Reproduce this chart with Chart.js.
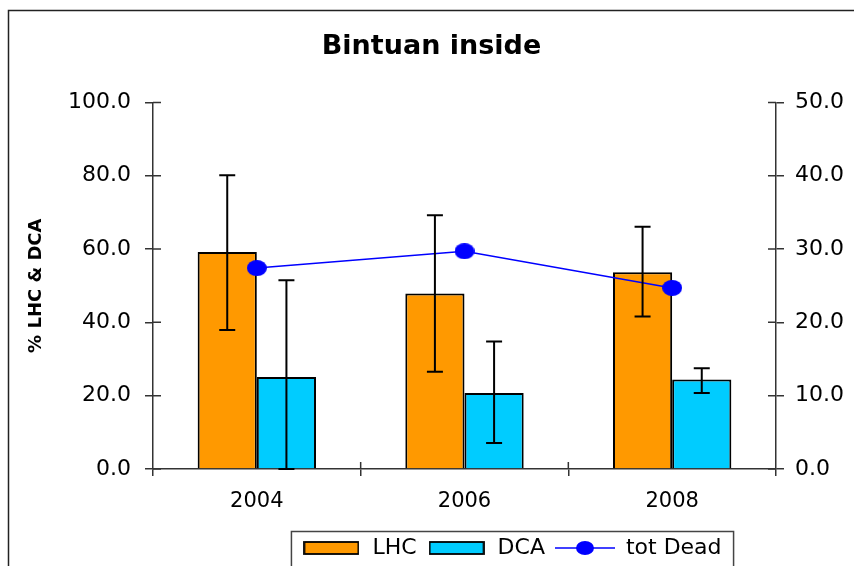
<!DOCTYPE html>
<html>
<head>
<meta charset="utf-8">
<script src="https://cdn.jsdelivr.net/npm/chart.js@4.4.1/dist/chart.umd.min.js"></script>
<style>
  html, body { margin: 0; padding: 0; background: #fff; overflow: hidden; }
  #wrap { width: 854px; height: 566px; overflow: hidden; }
</style>
</head>
<body>
<div id="wrap"><canvas id="bar-chart" width="854" height="569"></canvas></div>
<script>
const years = ['2004', '2006', '2008'];
const lhc = [59.2, 47.9, 53.7];
const lhcHigh = [80.1, 69.2, 66.1];
const lhcLow = [37.9, 26.5, 41.6];
const dca = [25.1, 20.7, 24.4];
const dcaHigh = [51.5, 34.8, 27.5];
const dcaLow = [0.0, 7.1, 20.7];
const totDead = [27.4, 29.7, 24.7];
const leftTicks = [0, 20, 40, 60, 80, 100];
const rightTicks = [0, 10, 20, 30, 40, 50];

const FONT = "'DejaVu Sans', sans-serif";
const AXIS = '#333';

function boxIcon(color) {
  const c = document.createElement('canvas');
  c.width = 56; c.height = 14;
  const g = c.getContext('2d');
  g.fillStyle = color;
  g.fillRect(1, 1, 54, 12);
  g.strokeStyle = '#000';
  g.lineWidth = 1.8;
  g.strokeRect(1, 1, 54, 12);
  return c;
}

function dotIcon(w, h) {
  const c = document.createElement('canvas');
  c.width = w; c.height = h;
  const g = c.getContext('2d');
  g.fillStyle = '#0000FF';
  g.beginPath();
  g.ellipse(w / 2, h / 2, w / 2, h / 2, 0, 0, Math.PI * 2);
  g.fill();
  return c;
}

function lineIcon() {
  const c = document.createElement('canvas');
  c.width = 60; c.height = 16;
  const g = c.getContext('2d');
  g.strokeStyle = '#0000FF';
  g.lineWidth = 1.5;
  g.beginPath();
  g.moveTo(0, 8); g.lineTo(60, 8);
  g.stroke();
  g.drawImage(dotIcon(18, 14), 21, 1);
  return c;
}

const legendIcons = [boxIcon('#FF9900'), boxIcon('#00CCFF'), lineIcon()];
const errors = [[lhcLow, lhcHigh], [dcaLow, dcaHigh]];

// frame round the chart + white background
const framePlugin = {
  id: 'frame',
  beforeDraw(chart) {
    const ctx = chart.ctx;
    ctx.save();
    ctx.fillStyle = '#fff';
    ctx.fillRect(0, 0, chart.width, chart.height);
    ctx.strokeStyle = '#222';
    ctx.lineWidth = 1.5;
    ctx.beginPath();
    ctx.moveTo(8.5, chart.height + 5);
    ctx.lineTo(8.5, 10.5);
    ctx.lineTo(chart.width + 5, 10.5);
    ctx.stroke();
    ctx.restore();
  }
};

// ticks that cross the axis lines
const innerTicks = {
  id: 'innerTicks',
  afterDraw(chart) {
    const ctx = chart.ctx;
    const {x, y, y2} = chart.scales;
    ctx.save();
    ctx.strokeStyle = AXIS;
    ctx.lineWidth = 1.5;
    ctx.beginPath();
    y.ticks.forEach(t => {
      const p = y.getPixelForValue(t.value);
      ctx.moveTo(y.right, p); ctx.lineTo(y.right + 8, p);
    });
    y2.ticks.forEach(t => {
      const p = y2.getPixelForValue(t.value);
      ctx.moveTo(y2.left, p); ctx.lineTo(y2.left - 8, p);
    });
    const step = x.width / years.length;
    for (let i = 1; i < years.length; i++) {
      const p = x.left + i * step;
      ctx.moveTo(p, x.top); ctx.lineTo(p, x.top - 7);
    }
    ctx.stroke();
    ctx.restore();
  }
};

const errorBars = {
  id: 'errorBars',
  afterDatasetsDraw(chart) {
    const ctx = chart.ctx;
    const y = chart.scales.y;
    ctx.save();
    ctx.strokeStyle = '#000';
    ctx.lineWidth = 2;
    errors.forEach((pair, di) => {
      const meta = chart.getDatasetMeta(di);
      meta.data.forEach((bar, i) => {
        const lo = y.getPixelForValue(pair[0][i]);
        const hi = y.getPixelForValue(pair[1][i]);
        ctx.beginPath();
        ctx.moveTo(bar.x, lo); ctx.lineTo(bar.x, hi);
        ctx.moveTo(bar.x - 8, hi); ctx.lineTo(bar.x + 8, hi);
        ctx.moveTo(bar.x - 8, lo); ctx.lineTo(bar.x + 8, lo);
        ctx.stroke();
      });
    });
    ctx.restore();
  }
};

// move the legend to the right like in the original and box it
const legendBox = {
  id: 'legendBox',
  afterLayout(chart) {
    chart.legend.left += 80;
    chart.legend.right += 80;
  },
  afterDraw(chart) {
    const lg = chart.legend;
    const pad = lg.options.labels.padding;
    const w = lg.lineWidths[0];
    const startX = (lg.left + pad + lg.right - w) / 2;
    const ctx = chart.ctx;
    ctx.save();
    ctx.strokeStyle = '#444';
    ctx.lineWidth = 1.5;
    ctx.strokeRect(startX - 10, lg.top + 4.5, w + 12, 60);
    ctx.restore();
  }
};

Chart.defaults.color = '#000';
Chart.defaults.font.family = FONT;

let barchart = new Chart(document.getElementById('bar-chart'), {
  type: 'bar',
  data: {
    labels: years,
    datasets: [
      {
        label: 'LHC',
        backgroundColor: '#FF9900',
        borderColor: '#000',
        borderWidth: 2,
        data: lhc,
        order: 1
      },
      {
        label: 'DCA',
        backgroundColor: '#00CCFF',
        borderColor: '#000',
        borderWidth: 2,
        data: dca,
        order: 1
      },
      {
        type: 'line',
        label: 'tot Dead',
        yAxisID: 'y2',
        borderColor: '#0000FF',
        borderWidth: 1.5,
        backgroundColor: '#0000FF',
        pointStyle: dotIcon(20, 16),
        pointRadius: 9,
        data: totDead,
        order: 0
      }
    ]
  },
  options: {
    responsive: false,
    animation: false,
    categoryPercentage: 0.57,
    barPercentage: 1.0,
    layout: { padding: { left: 9, top: 10, right: 0, bottom: 0 } },
    plugins: {
      tooltip: { enabled: false },
      title: {
        display: true,
        text: 'Bintuan inside',
        color: '#000',
        font: { family: FONT, size: 27, weight: 'bold', lineHeight: 1.2 },
        padding: { top: 21, bottom: 39 }
      },
      legend: {
        position: 'bottom',
        labels: {
          usePointStyle: true,
          pointStyleWidth: 60,
          padding: 10,
          color: '#000',
          font: { family: FONT, size: 22 },
          generateLabels(chart) {
            return chart.data.datasets.map((ds, i) => ({
              text: ds.label,
              pointStyle: legendIcons[i],
              datasetIndex: i,
              hidden: false,
              lineWidth: 0
            }));
          }
        }
      }
    },
    scales: {
      x: {
        grid: { display: true, offset: true, drawOnChartArea: false, tickLength: 7, color: AXIS, lineWidth: 1.5 },
        border: { display: true, color: AXIS, width: 1.5 },
        ticks: { padding: 13, font: { family: FONT, size: 21 }, color: '#000' },
        afterFit(scale) { scale.height = 58; }
      },
      y: {
        position: 'left',
        min: 0,
        max: 100,
        afterBuildTicks(scale) { scale.ticks = leftTicks.map(v => ({ value: v })); },
        grid: { drawOnChartArea: false, tickLength: 8, color: AXIS, lineWidth: 1.5 },
        border: { display: true, color: AXIS, width: 1.5 },
        ticks: {
          padding: 14,
          font: { family: FONT, size: 22 },
          color: '#000',
          callback: v => v.toFixed(1)
        },
        title: {
          display: true,
          text: '% LHC & DCA',
          color: '#000',
          font: { family: FONT, size: 18, weight: 'bold', lineHeight: 1.2 },
          padding: { top: 17, bottom: 0 }
        },
        afterFit(scale) { scale.width = 144; }
      },
      y2: {
        position: 'right',
        min: 0,
        max: 50,
        afterBuildTicks(scale) { scale.ticks = rightTicks.map(v => ({ value: v })); },
        grid: { drawOnChartArea: false, tickLength: 8, color: AXIS, lineWidth: 1.5 },
        border: { display: true, color: AXIS, width: 1.5 },
        ticks: {
          padding: 11,
          font: { family: FONT, size: 22 },
          color: '#000',
          callback: v => v.toFixed(1)
        },
        afterFit(scale) { scale.width = 78; }
      }
    }
  },
  plugins: [framePlugin, errorBars, innerTicks, legendBox]
});
</script>
</body>
</html>
